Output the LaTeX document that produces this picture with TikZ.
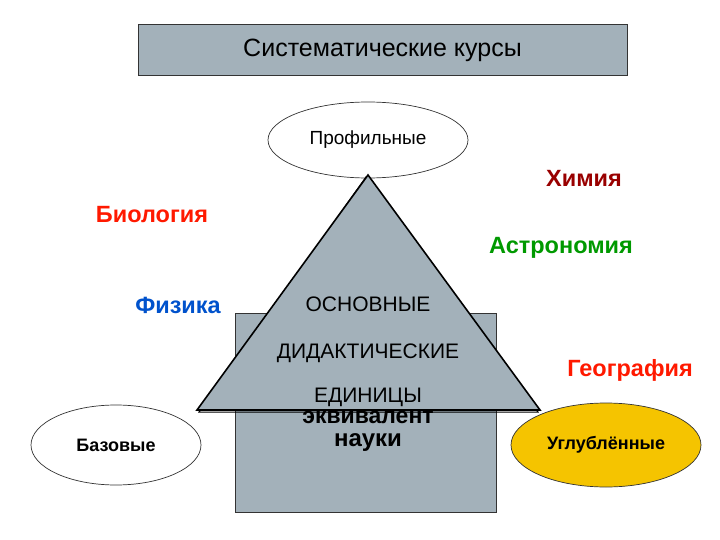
\documentclass[tikz,border=0pt]{standalone}
\usepackage{fontspec}
\setmainfont{Liberation Sans}
\usetikzlibrary{shapes.geometric}
\definecolor{boxg}{HTML}{A3B1BA}
\definecolor{yel}{HTML}{F5C400}
\begin{document}
\begin{tikzpicture}[x=1pt,y=-1pt,
  ell/.style={ellipse,draw=black!80,line width=0.7pt,inner sep=0pt},
  lab/.style={font=\bfseries\fontsize{23.5}{23.5}\selectfont},
  tri/.style={font=\fontsize{21}{21}\selectfont}]
\useasboundingbox (0,0) rectangle (720,540);
\node[draw=black!80,line width=1pt,fill=boxg,minimum width=489pt,minimum height=51pt,font=\fontsize{25}{25}\selectfont] (top) at (382.5,50.5) {Систематические курсы};
\node[ell,fill=white,minimum width=200pt,minimum height=76pt,font=\fontsize{19}{19}\selectfont] (prof) at (368,140) {Профильные};
\node[lab,text=red!60!black] (chem) at (584,178) {Химия};
\node[lab,text=red!80!orange] (bio) at (152,215) {Биология};
\node[lab,text=green!60!black] (astro) at (561,248) {Астрономия};
\node[lab,text=blue!60!cyan!80!black] (phys) at (178,305) {Физика};
\node[lab,text=red!80!orange] (geo) at (630,370) {География};
\node[draw=black!80,line width=1pt,fill=boxg,minimum width=261pt,minimum height=199pt] (rect) at (365.5,412.5) {};
\draw[line width=1pt] (366,177) -- (199,412) -- (538,412) -- cycle;
\fill[boxg,draw=black,line width=1.6pt] (368,175) -- (197,410) -- (540,410) -- cycle;
\node[tri] (t1) at (368,304) {ОСНОВНЫЕ};
\node[tri] (t2) at (368,353) {ДИДАКТИЧЕСКИЕ};
\node[font=\bfseries\fontsize{23}{23}\selectfont] (eq) at (368,417) {эквивалент};
\node[tri] (t3) at (368,397) {ЕДИНИЦЫ};
\node[font=\bfseries\fontsize{24}{24}\selectfont] (sci) at (368,443) {науки};
\node[ell,fill=white,minimum width=170pt,minimum height=80pt,font=\bfseries\fontsize{18}{18}\selectfont] (base) at (116,445) {Базовые};
\node[ell,fill=yel,minimum width=190pt,minimum height=84pt,font=\bfseries\fontsize{18}{18}\selectfont] (deep) at (606,445) {Углублённые};
\end{tikzpicture}
\end{document}
